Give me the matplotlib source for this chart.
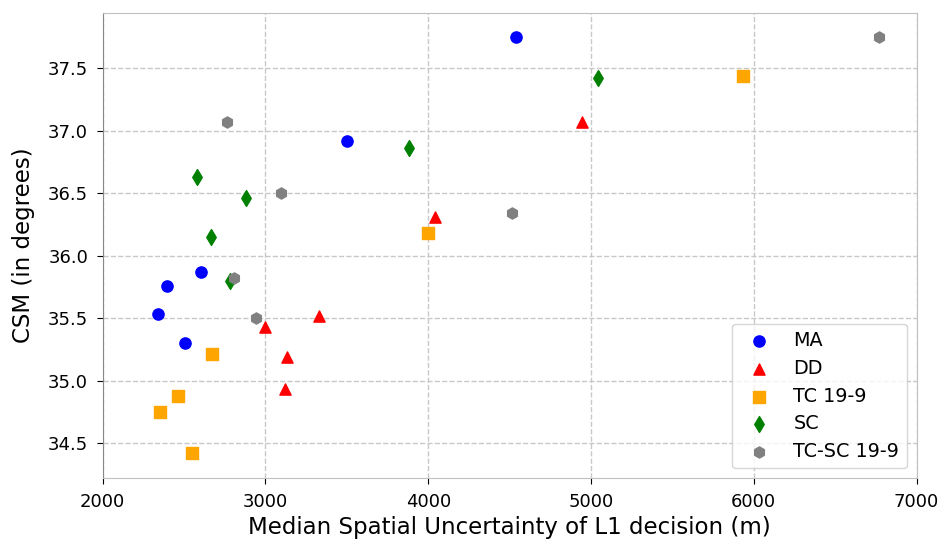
import matplotlib.pyplot as plt

# Median spatial uncertainty (m) and CSM (degrees) per method
ma_x = [2337, 2394, 2505, 2605, 3504, 4539]
ma_y = [35.53, 35.76, 35.30, 35.87, 36.92, 37.75]

dd_x = [3000, 3117, 3135, 3326, 4043, 4942]
dd_y = [35.43, 34.93, 35.19, 35.52, 36.31, 37.07]

tc_x = [2353, 2460, 2546, 2672, 4000, 5936]
tc_y = [34.75, 34.88, 34.42, 35.21, 36.18, 37.44]

sc_x = [2578, 2664, 2780, 2880, 3883, 5040]
sc_y = [36.63, 36.15, 35.80, 36.46, 36.86, 37.42]

tcsc_x = [2763, 2804, 2939, 3096, 4512, 6768]
tcsc_y = [37.07, 35.82, 35.50, 36.50, 36.34, 37.75]

series = [
    ("MA", ma_x, ma_y, "blue", "o"),
    ("DD", dd_x, dd_y, "red", "^"),
    ("TC 19-9", tc_x, tc_y, "orange", "s"),
    ("SC", sc_x, sc_y, "green", "d"),
    ("TC-SC 19-9", tcsc_x, tcsc_y, "gray", "h"),
]

fig = plt.figure(figsize=(9.42, 5.42), dpi=100)
ax = fig.add_axes([0.109, 0.118, 0.864, 0.858])

for label, xs, ys, color, marker in series:
    ax.scatter(xs, ys, s=65, c=color, marker=marker, label=label, zorder=3)

ax.set_xlim(2000, 7000)
ax.set_ylim(34.22, 37.94)
ax.set_xticks([2000, 3000, 4000, 5000, 6000, 7000])
ax.set_yticks([34.5, 35.0, 35.5, 36.0, 36.5, 37.0, 37.5])

ax.grid(True, linestyle="--", color="#c8c8c8", linewidth=1.0)
ax.set_axisbelow(True)

for side in ["top", "right", "bottom"]:
    ax.spines[side].set_color("#c0c0c0")
ax.spines["left"].set_color("#888888")

ax.tick_params(labelsize=13, length=4.5, pad=6)
ax.set_xlabel("Median Spatial Uncertainty of L1 decision (m)", fontsize=16.5, labelpad=4)
ax.set_ylabel("CSM (in degrees)", fontsize=16.5, labelpad=9)

ax.legend(loc="lower right", fontsize=13.8, labelspacing=0.45)

fig.savefig("out.png", dpi=100)
